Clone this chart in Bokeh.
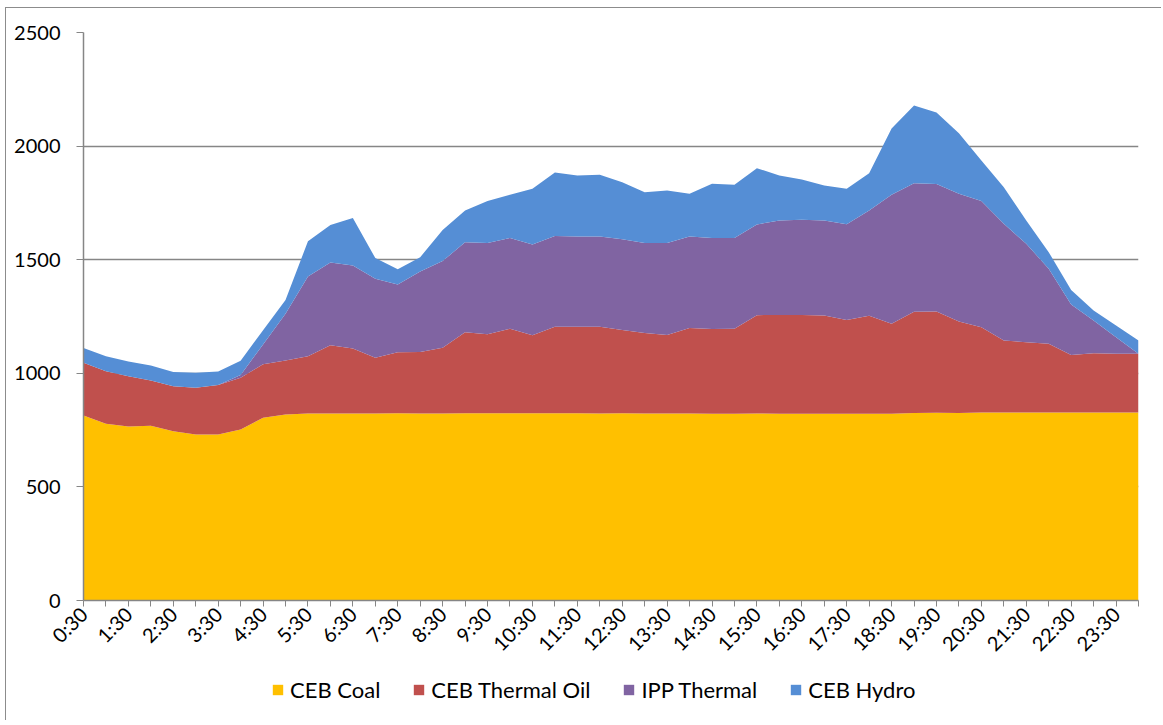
import math
from bokeh.plotting import figure
from bokeh.layouts import column
from bokeh.models import ColumnDataSource, Range1d, FixedTicker, Legend, LegendItem
from bokeh.embed import file_html
from bokeh.resources import INLINE

times = ["0:30", "1:00", "1:30", "2:00", "2:30", "3:00", "3:30", "4:00",
         "4:30", "5:00", "5:30", "6:00", "6:30", "7:00", "7:30", "8:00",
         "8:30", "9:00", "9:30", "10:00", "10:30", "11:00", "11:30", "12:00",
         "12:30", "13:00", "13:30", "14:00", "14:30", "15:00", "15:30", "16:00",
         "16:30", "17:00", "17:30", "18:00", "18:30", "19:00", "19:30", "20:00",
         "20:30", "21:00", "21:30", "22:00", "22:30", "23:00", "23:30", "0:00"]

ceb_coal = [814, 778, 766, 769, 745, 731, 731, 753, 804, 819, 823, 823,
            823, 823, 824, 823, 823, 824, 824, 824, 824, 824, 824, 823,
            824, 823, 823, 823, 822, 822, 823, 822, 822, 822, 822, 822,
            822, 825, 826, 825, 827, 827, 827, 827, 827, 827, 827, 827]

ceb_thermal_oil = [232, 231, 221, 199, 198, 205, 218, 227, 236, 237, 252, 301,
                   286, 245, 269, 271, 289, 357, 348, 372, 344, 381, 381, 382,
                   367, 354, 346, 376, 373, 374, 433, 435, 435, 432, 413, 431,
                   396, 446, 446, 403, 376, 317, 310, 303, 254, 261, 259, 259]

ipp_thermal = [0, 0, 0, 0, 0, 0, 0, 13, 87, 206, 351, 364,
               365, 348, 298, 354, 382, 396, 401, 400, 399, 399, 397, 397,
               399, 397, 405, 403, 400, 400, 399, 416, 419, 419, 421, 464,
               568, 566, 561, 562, 555, 514, 433, 330, 222, 144, 73, 0]

ceb_hydro = [65, 66, 65, 66, 63, 66, 59, 62, 63, 61, 155, 165,
             210, 91, 67, 63, 137, 140, 185, 190, 245, 280, 269, 272,
             251, 223, 231, 188, 239, 234, 248, 198, 177, 154, 156, 164,
             291, 342, 315, 267, 179, 161, 103, 73, 64, 44, 51, 58]

series_names = ["CEB Coal", "CEB Thermal Oil", "IPP Thermal", "CEB Hydro"]
colors = ["#FFC000", "#C0504D", "#8064A2", "#558ED5"]

idx = list(range(len(times)))
source = ColumnDataSource(dict(
    x=idx,
    coal=ceb_coal,
    oil=ceb_thermal_oil,
    ipp=ipp_thermal,
    hydro=ceb_hydro,
))

FONT = "Lato"
GRAY = "#868686"
W = 1155

p = figure(width=W, height=662, output_backend="svg", toolbar_location=None,
           x_range=Range1d(0, len(times) - 1), y_range=Range1d(0, 2500),
           min_border_left=77, min_border_right=23, min_border_top=24,
           min_border_bottom=70)
p.outline_line_color = None
p.background_fill_color = "white"

p.varea_stack(stackers=["coal", "oil", "ipp", "hydro"], x="x",
              color=colors, source=source)

# axes
p.xaxis.ticker = FixedTicker(ticks=idx)
p.xaxis.major_label_overrides = {i: (times[i] if i % 2 == 0 else "") for i in idx}
p.xaxis.major_label_orientation = math.pi / 4
p.xaxis.major_label_text_font = FONT
p.xaxis.major_label_text_font_size = "20px"
p.xaxis.major_label_text_color = "black"
p.xaxis.major_label_standoff = 4
p.xaxis.axis_line_color = GRAY
p.xaxis.axis_line_width = 1.5
p.xaxis.major_tick_line_color = GRAY
p.xaxis.major_tick_out = 6
p.xaxis.major_tick_in = 0
p.xaxis.minor_tick_line_color = None

p.yaxis.ticker = FixedTicker(ticks=[0, 500, 1000, 1500, 2000, 2500])
p.yaxis.major_label_text_font = FONT
p.yaxis.major_label_text_font_size = "20px"
p.yaxis.major_label_text_color = "black"
p.yaxis.major_label_standoff = 16
p.yaxis.axis_line_color = GRAY
p.yaxis.axis_line_width = 1.5
p.yaxis.major_tick_line_color = GRAY
p.yaxis.major_tick_out = 7
p.yaxis.major_tick_in = 0
p.yaxis.minor_tick_line_color = None

p.xgrid.grid_line_color = None
p.ygrid.grid_line_color = GRAY
p.ygrid.grid_line_width = 1.5

# legend strip below the chart
lg = figure(width=W, height=50, output_backend="svg", toolbar_location=None,
            x_range=Range1d(0, 1), y_range=Range1d(0, 1),
            x_axis_location=None, y_axis_location=None,
            min_border_left=0, min_border_right=0, min_border_top=0,
            min_border_bottom=0)
lg.grid.grid_line_color = None
lg.outline_line_color = None

items = []
for name, col in zip(series_names, colors):
    r = lg.quad(left=[-10], right=[-9], bottom=[-10], top=[-9],
                fill_color=col, line_color=None)
    items.append(LegendItem(label=name, renderers=[r]))

legend = Legend(
    items=items,
    orientation="horizontal",
    location=(188, 17),
    border_line_color=None,
    background_fill_alpha=0,
    label_text_font=FONT,
    label_text_font_size="22px",
    label_text_color="black",
    glyph_width=13,
    glyph_height=13,
    label_standoff=6,
    spacing=32,
    padding=0,
    margin=0,
)
lg.add_layout(legend, "center")

layout = column(p, lg, spacing=0)
layout.styles = {"margin-left": "5px", "margin-top": "7px",
                 "border-left": "1px solid #8c8c8c", "border-top": "1px solid #8c8c8c"}

open("out.html", "w").write(file_html(layout, INLINE))
